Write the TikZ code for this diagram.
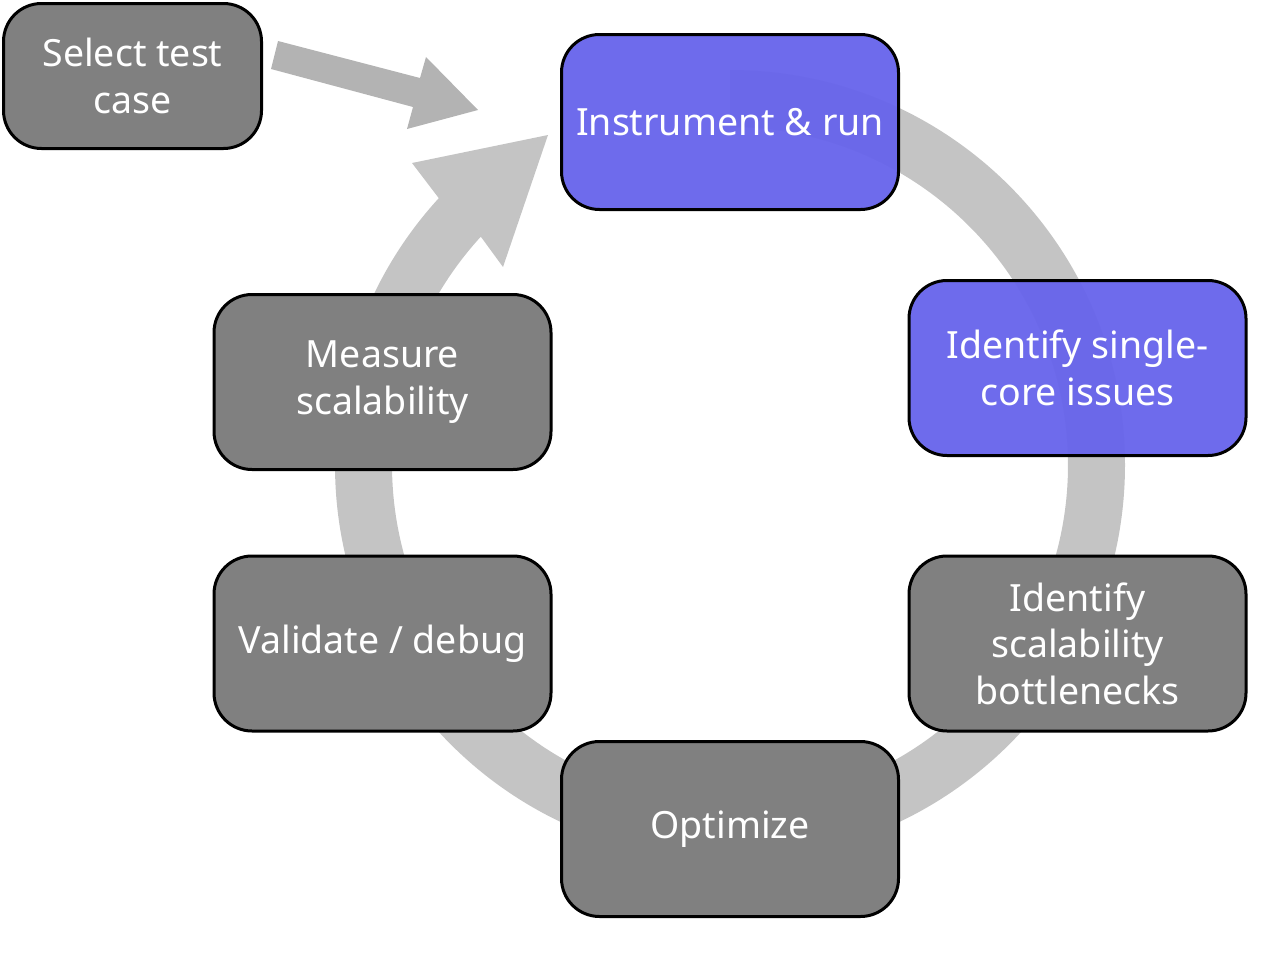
\documentclass[tikz,border=0pt]{standalone}
\usepackage{fontspec}
\setmainfont{Noto Sans}
\definecolor{ringc}{HTML}{C4C4C4}
\definecolor{arrc}{HTML}{B3B3B3}
\definecolor{boxgray}{HTML}{808080}
\definecolor{boxblue}{HTML}{6966EB}
\tikzset{
  stepbox/.style={draw=black, line width=3pt, rounded corners=38pt,
    minimum width=337pt, minimum height=175pt, text=white, align=center,
    inner sep=0pt, font=\fontsize{37.5}{46.5}\selectfont},
  graybox/.style={stepbox, fill=boxgray},
  bluebox/.style={stepbox, fill=boxblue, fill opacity=0.97, text opacity=1},
}
\begin{document}
\begin{tikzpicture}[x=1pt,y=-1pt]
\useasboundingbox (0,0) rectangle (1275,953);
% ring
\fill[ringc] (730,465) ++(-90:395) arc[start angle=-90, end angle=222.5, radius=395]
  -- (412,163) -- (548,135) -- (503,267)
  -- ([shift={(730,465)}]222.5:338) arc[start angle=222.5, end angle=-90, radius=338] -- cycle;
% nodes
\node[graybox, minimum width=258pt, minimum height=145pt] (sel) at (132.5,76) {Select test\\case};
\node[bluebox] (inst) at (730,122) {Instrument \& run};
\node[bluebox] (single) at (1077.5,368) {Identify single-\\core issues};
\node[graybox] (bottle) at (1077.5,643.5) {Identify\\scalability\\bottlenecks};
\node[graybox] (opt) at (730,829) {Optimize};
\node[graybox] (valid) at (382.5,643.5) {Validate / debug};
\node[graybox] (meas) at (382.5,382) {Measure\\scalability};
% select arrow
\fill[arrc] (278,41) -- (420,78) -- (426,57) -- (478,110) -- (407,129) -- (413,107) -- (271,69) -- cycle;
\end{tikzpicture}
\end{document}
